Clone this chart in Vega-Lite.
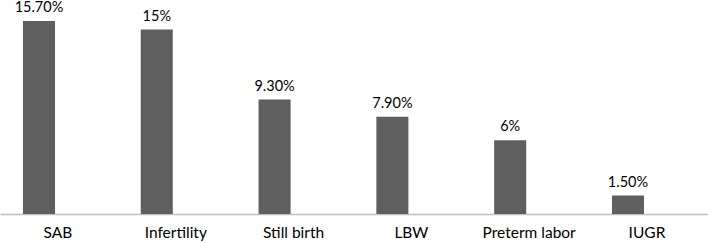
{
  "$schema": "https://vega.github.io/schema/vega-lite/v6.json",
  "width": 708,
  "height": 214,
  "autosize": {"type": "none"},
  "padding": {"left": 0, "top": 0, "right": 0, "bottom": 29},
  "background": "white",
  "config": {"view": {"stroke": null}, "font": "Lato"},
  "data": {
    "values": [
      {"category": "SAB", "value": 15.7, "label": "15.70%"},
      {"category": "Infertility", "value": 15, "label": "15%"},
      {"category": "Still birth", "value": 9.3, "label": "9.30%"},
      {"category": "LBW", "value": 7.9, "label": "7.90%"},
      {"category": "Preterm labor", "value": 6, "label": "6%"},
      {"category": "IUGR", "value": 1.5, "label": "1.50%"}
    ]
  },
  "encoding": {
    "x": {
      "field": "category",
      "type": "nominal",
      "sort": null,
      "scale": {"paddingInner": 0.728, "paddingOuter": 0.369, "align": 0.264},
      "axis": {
        "title": null,
        "labelAngle": 0,
        "ticks": false,
        "domainColor": "#bfbfbf",
        "domainWidth": 1.5,
        "labelFontSize": 15.5,
        "labelColor": "#000000",
        "labelPadding": 11,
        "labelOffset": 19,
        "labelFont": "Lato"
      }
    },
    "y": {
      "field": "value",
      "type": "quantitative",
      "scale": {"domain": [0, 17.4], "nice": false},
      "axis": null
    }
  },
  "layer": [
    {"mark": {"type": "bar", "color": "#5f5f5f"}},
    {
      "mark": {"type": "text", "baseline": "bottom", "dy": -6, "fontSize": 14.5, "color": "#000000", "font": "Lato"},
      "encoding": {"text": {"field": "label"}}
    }
  ]
}
